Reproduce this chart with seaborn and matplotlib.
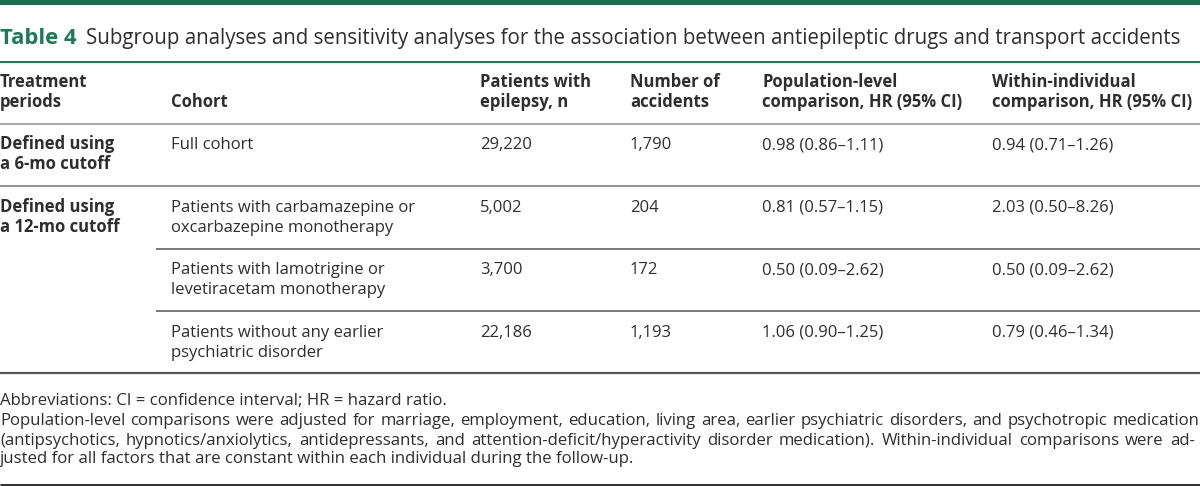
import matplotlib
matplotlib.use("Agg")
import matplotlib.pyplot as plt
import seaborn as sns

sns.set_theme(style="white")
plt.rcParams['font.family'] = ['Open Sans', 'DejaVu Sans']

# ---------------- data ----------------
title_label = "Table 4"
title_text = "Subgroup analyses and sensitivity analyses for the association between antiepileptic drugs and transport accidents"

headers = [
    ["Treatment", "periods"],
    ["", "Cohort"],
    ["Patients with", "epilepsy, n"],
    ["Number of", "accidents"],
    ["Population-level", "comparison, HR (95% CI)"],
    ["Within-individual", "comparison, HR (95% CI)"],
]

periods = [["Defined using", "a 6-mo cutoff"], ["Defined using", "a 12-mo cutoff"]]
period_of_row = [0, 1, 1, 1]

cohorts = [
    ["Full cohort"],
    ["Patients with carbamazepine or", "oxcarbazepine monotherapy"],
    ["Patients with lamotrigine or", "levetiracetam monotherapy"],
    ["Patients without any earlier", "psychiatric disorder"],
]
patients = ["29,220", "5,002", "3,700", "22,186"]
accidents = ["1,790", "204", "172", "1,193"]
population_hr = ["0.98 (0.86–1.11)", "0.81 (0.57–1.15)", "0.50 (0.09–2.62)", "1.06 (0.90–1.25)"]
within_hr = ["0.94 (0.71–1.26)", "2.03 (0.50–8.26)", "0.50 (0.09–2.62)", "0.79 (0.46–1.34)"]

footnote_abbrev = "Abbreviations: CI = confidence interval; HR = hazard ratio."
footnote_lines = [
    "Population-level comparisons were adjusted for marriage, employment, education, living area, earlier psychiatric disorders, and psychotropic medication",
    "(antipsychotics, hypnotics/anxiolytics, antidepressants, and attention-deficit/hyperactivity disorder medication). Within-individual comparisons were ad-",
    "justed for all factors that are constant within each individual during the follow-up.",
]

# ---------------- layout ----------------
W, H = 1200, 486
fig = plt.figure(figsize=(W / 100, H / 100), dpi=100)
ax = fig.add_axes([0, 0, 1, 1])
ax.set_xlim(0, W)
ax.set_ylim(H, 0)
ax.axis("off")

GREEN_DARK = "#1c6b4c"
GREEN = "#1d7a55"
TXT = "#2e2e2e"
BODY_FS = 12.0
HEAD_FS = 12.0
TITLE_LABEL_FS = 15.8


def text_width(t):
    fig.canvas.draw()
    rend = fig.canvas.get_renderer()
    e = t.get_window_extent(rend)
    inv = ax.transData.inverted()
    return inv.transform((e.x1, 0))[0] - inv.transform((e.x0, 0))[0]


def fit_text(x, y, s, x_end, fs0, **kw):
    t = ax.text(x, y, s, fontsize=fs0, va="baseline", ha="left", **kw)
    w = text_width(t)
    t.set_fontsize(fs0 * (x_end - x) / w)
    return t


col_x = [0, 171, 480, 630, 762, 992]
line_gap = 20

# top band
ax.axhspan(0, 5, color=GREEN_DARK, lw=0)

# title
ax.text(0, 44, title_label, fontsize=TITLE_LABEL_FS, fontweight="bold", color=GREEN, va="baseline", ha="left")
fit_text(86, 44, title_text, 1183, 15.0, color=TXT)

ax.plot([0, W], [62.5, 62.5], color=GREEN, lw=1.5, solid_capstyle="butt")

# headers
for x, lines in zip(col_x, headers):
    for k, s in enumerate(lines):
        if s:
            ax.text(x, 86.7 + k * line_gap, s, fontsize=HEAD_FS, fontweight="bold", color=TXT, va="baseline")

ax.plot([0, W], [124, 124], color="#a8a8a8", lw=1.5, solid_capstyle="butt")

row_base = [149.3, 211.7, 274.0, 336.5]
sep_y = [186, 249, 311, 373]
sep_x0 = [0, 156, 156, 0]
sep_col = ["#8a8a8a", "#6e6e6e", "#6e6e6e", "#555555"]
sep_lw = [1.3, 1.3, 1.3, 1.6]

shown_period = set()
for i in range(len(cohorts)):
    yb = row_base[i]
    p = period_of_row[i]
    if p not in shown_period:
        shown_period.add(p)
        for k, s in enumerate(periods[p]):
            ax.text(col_x[0], yb + k * line_gap, s, fontsize=BODY_FS, fontweight="bold", color=TXT, va="baseline")
    for k, s in enumerate(cohorts[i]):
        ax.text(col_x[1], yb + k * line_gap, s, fontsize=BODY_FS, color=TXT, va="baseline")
    ax.text(col_x[2], yb, patients[i], fontsize=BODY_FS, color=TXT, va="baseline")
    ax.text(col_x[3], yb, accidents[i], fontsize=BODY_FS, color=TXT, va="baseline")
    ax.text(col_x[4], yb, population_hr[i], fontsize=BODY_FS, color=TXT, va="baseline")
    ax.text(col_x[5], yb, within_hr[i], fontsize=BODY_FS, color=TXT, va="baseline")
    ax.plot([sep_x0[i], W], [sep_y[i], sep_y[i]], color=sep_col[i], lw=sep_lw[i], solid_capstyle="butt")

# footnotes
foot_base = [405, 425, 444.5, 462.5]
ab = fit_text(0, foot_base[0], footnote_abbrev, 446, 12.0, color=TXT)
FOOT_FS = ab.get_fontsize()


def justified(line, y, x0, x1):
    words = line.split(" ")
    texts = [ax.text(0, y, w, fontsize=FOOT_FS, color=TXT, va="baseline") for w in words]
    widths = [text_width(t) for t in texts]
    gap = (x1 - x0 - sum(widths)) / (len(words) - 1)
    x = x0
    for t, wd in zip(texts, widths):
        t.set_x(x)
        x += wd + gap


justified(footnote_lines[0], foot_base[1], 0, 1199.5)
justified(footnote_lines[1], foot_base[2], 0, 1195)
ax.text(0, foot_base[3], footnote_lines[2], fontsize=FOOT_FS, color=TXT, va="baseline")

ax.plot([0, W], [484.5, 484.5], color="#333333", lw=2.2, solid_capstyle="butt")

fig.savefig("out.png", dpi=100)
